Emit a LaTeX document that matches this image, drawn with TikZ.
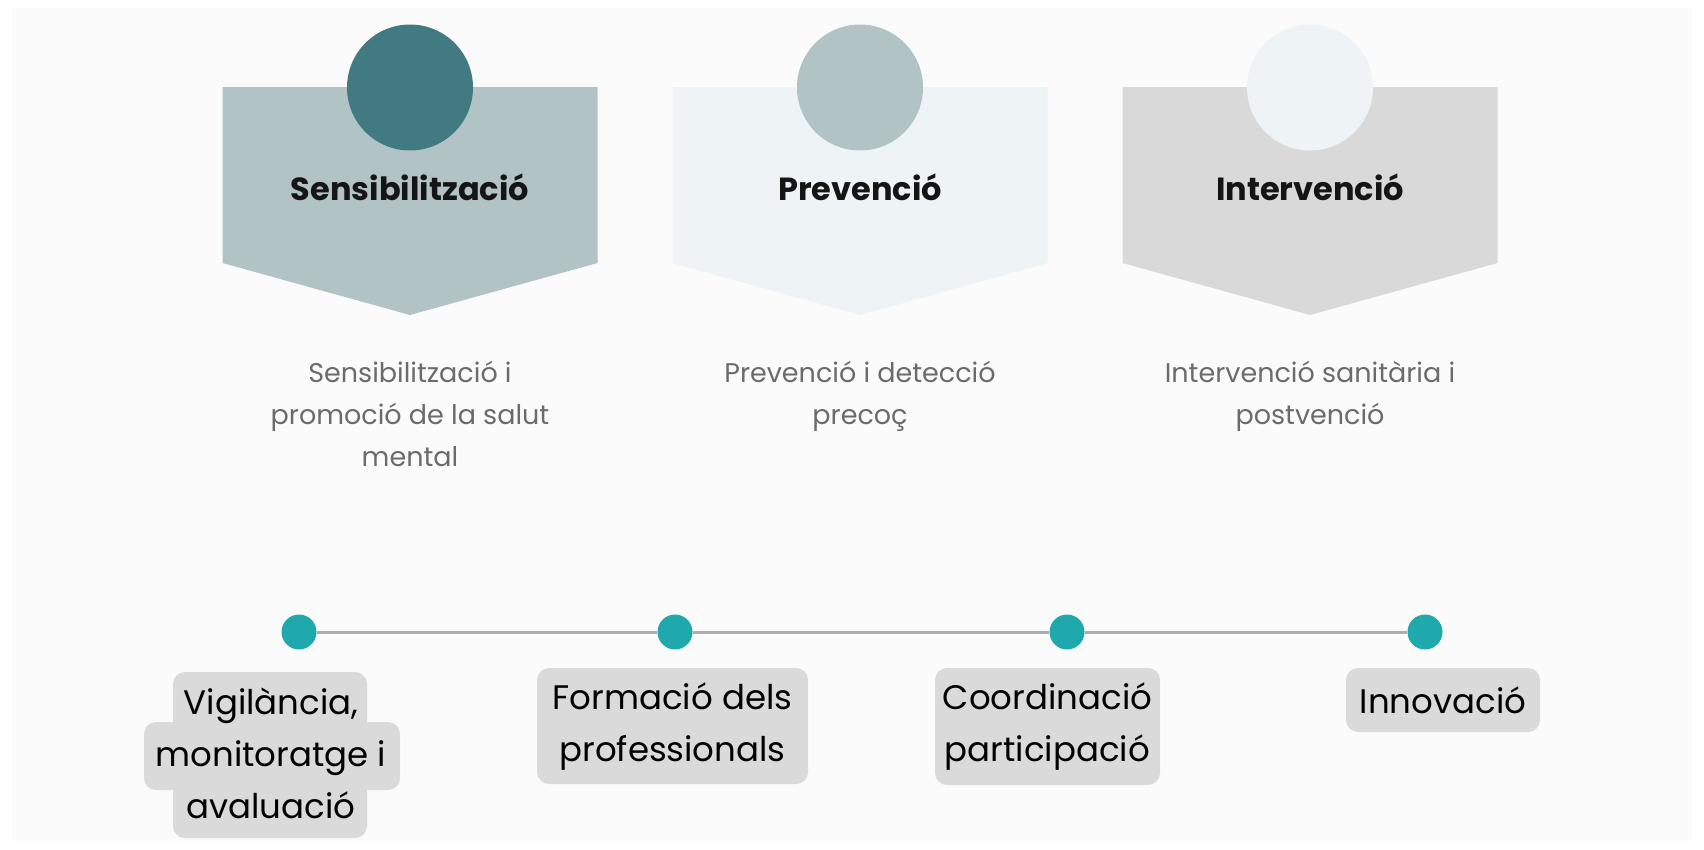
\documentclass[tikz,border=0pt]{standalone}
\usepackage{fontspec}
\setmainfont{Poppins}
\definecolor{pagebg}{HTML}{FBFBFB}
\definecolor{tealdark}{HTML}{417A80}
\definecolor{sage}{HTML}{B1C3C5}
\definecolor{palebg}{HTML}{EEF3F5}
\definecolor{greyband}{HTML}{D9D9D9}
\definecolor{dotteal}{HTML}{20A9AC}
\definecolor{linegrey}{HTML}{ADADAD}
\definecolor{tagfill}{HTML}{DADADA}
\definecolor{descgrey}{HTML}{6B6B6B}
\definecolor{titleblack}{HTML}{151515}

\begin{document}
\begin{tikzpicture}[x=1pt,y=-1pt,
  title/.style={font=\fontsize{32}{38}\selectfont\bfseries, text=titleblack},
  desc/.style={font=\fontsize{27}{42}\selectfont, text=descgrey, align=center, anchor=north, inner sep=0pt},
  dot/.style={circle, fill=dotteal, minimum size=35pt, inner sep=0pt},
  tag/.style={rounded corners=12pt, fill=tagfill, font=\fontsize{34}{52}\selectfont, align=center, text=black, inner sep=0pt},
  topdisc/.style={circle, minimum size=126pt, inner sep=0pt}]

    \useasboundingbox (0,0) rectangle (1704,849);
    \fill[pagebg] (12,8) rectangle (1692,841);

    \foreach \cx/\band/\disc/\name/\txt in {410/sage/tealdark/sens/Sensibilització, 860/palebg/sage/prev/Prevenció, 1310/greyband/palebg/inter/Intervenció} {
        \fill[\band] (\cx-187.5,87) -- (\cx+187.5,87) -- (\cx+187.5,263) -- (\cx,315) -- (\cx-187.5,263) -- cycle;
        \node[topdisc, fill=\disc] (\name-disc) at (\cx,87.5) {};
        \node[title] (\name-title) at (\cx,187) {\txt};
    }

    \node[desc] (sens-desc) at (410,361) {Sensibilització i\\promoció de la salut\\mental};
    \node[desc] (prev-desc) at (860,361) {Prevenció i detecció\\precoç};
    \node[desc] (inter-desc) at (1310,361) {Intervenció sanitària i\\postvenció};

    \node[dot] (m1) at (299,632) {};
    \node[dot] (m2) at (675,632) {};
    \node[dot] (m3) at (1067,632) {};
    \node[dot] (m4) at (1425,632) {};
    \draw[line width=3pt, linegrey] (m1) -- (m2) -- (m3) -- (m4);

    \fill[tagfill, rounded corners=12pt] (173,672) rectangle (367,738);
    \fill[tagfill, rounded corners=12pt] (144,722) rectangle (400,790);
    \fill[tagfill, rounded corners=12pt] (173,772) rectangle (367,838);
    \node[tag, fill=none] (vig) at (271,753) {Vigilància,\\monitoratge i\\avaluació};

    \node[tag, minimum width=271pt, minimum height=116pt] (form) at (672.5,726) {Formació dels\\professionals};
    \node[tag, minimum width=225pt, minimum height=117pt] (coord) at (1047.5,726.5) {Coordinació\\participació};
    \node[tag, minimum width=194pt, minimum height=64pt] (innov) at (1443,700) {Innovació};
\end{tikzpicture}
\end{document}
